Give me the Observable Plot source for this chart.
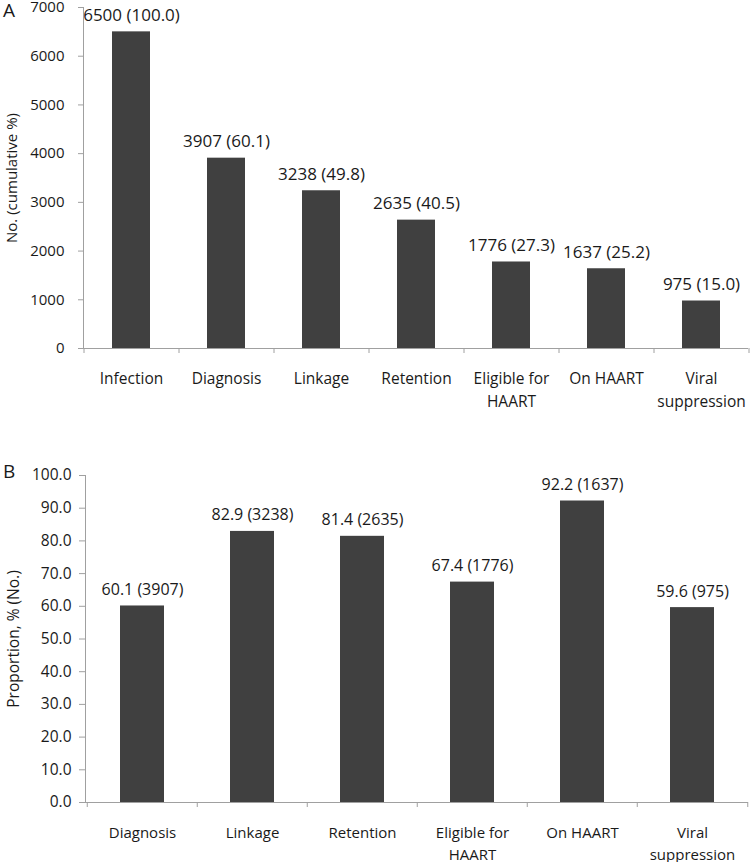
<!DOCTYPE html>
<html>
<head>
<meta charset="utf-8">
<script src="https://cdn.jsdelivr.net/npm/d3@7"></script>
<script src="https://cdn.jsdelivr.net/npm/@observablehq/plot@0.6"></script>
<style>
  html, body { margin: 0; padding: 0; background: #fff; }
  #wrap { position: relative; width: 750px; height: 862px; font-family: "Open Sans", sans-serif; color: #1a1a1a; }
  #wrap svg { display: block; }
  .panel-letter { position: absolute; left: 3px; font-size: 19px; line-height: 1; }
</style>
</head>
<body>
<div id="wrap">
  <div class="panel-letter" style="top:1px">A</div>
  <div class="panel-letter" style="top:462px">B</div>
</div>
<script>
// Panel A data
const categoriesA = ["Infection", "Diagnosis", "Linkage", "Retention", "Eligible for HAART", "On HAART", "Viral suppression"];
const countsA = [6500, 3907, 3238, 2635, 1776, 1637, 975];
const cumulativePctA = [100.0, 60.1, 49.8, 40.5, 27.3, 25.2, 15.0];
const yTicksA = [0, 1000, 2000, 3000, 4000, 5000, 6000, 7000];

// Panel B data
const categoriesB = ["Diagnosis", "Linkage", "Retention", "Eligible for HAART", "On HAART", "Viral suppression"];
const proportionsB = [60.1, 82.9, 81.4, 67.4, 92.2, 59.6];
const countsB = [3907, 3238, 2635, 1776, 1637, 975];
const yTicksB = [0, 10, 20, 30, 40, 50, 60, 70, 80, 90, 100];

// Tick labels (line breaks)
const tickLabels = {
  "Eligible for HAART": "Eligible for\nHAART",
  "Viral suppression": "Viral\nsuppression"
};

const dataA = categoriesA.map((c, i) => ({cat: c, value: countsA[i], pct: cumulativePctA[i]}));
const dataB = categoriesB.map((c, i) => ({cat: c, value: proportionsB[i], n: countsB[i]}));

const W = 750;
const axisGray = "#a0a0a0";
const barFill = "#404040";

function panel({data, cats, yDomain, yTicks, yFmt, yLabel, height, mt, mb, ml, labelText, labelSize, yTickSize, yTickPad, yFont, xFont, labelOffset}) {
  const step = (W - ml - 2) / cats.length;
  return Plot.plot({
    width: W,
    height,
    marginTop: mt,
    marginBottom: mb,
    marginLeft: ml,
    marginRight: 2,
    style: "font-family: 'Open Sans', sans-serif; font-size: 15px; color: #1a1a1a; background: white; overflow: visible;",
    x: {domain: cats, paddingInner: 0.6, paddingOuter: 0.3, axis: null},
    y: {domain: yDomain, axis: null},
    marks: [
      Plot.barY(data, {x: "cat", y: "value", fill: barFill}),
      Plot.text(data, {x: "cat", y: "value", text: labelText, dy: -11, lineAnchor: "bottom", fontSize: labelSize, fill: "#1a1a1a"}),
      Plot.axisY({ticks: yTicks, tickFormat: yFmt, tickSize: yTickSize, tickPadding: yTickPad, stroke: axisGray, fill: "#1a1a1a", fontSize: yFont,
                  label: yLabel, labelAnchor: "center", labelArrow: "none", labelOffset}),
      Plot.axisX({tickSize: 0, tickPadding: 20, tickFormat: d => tickLabels[d] ?? d, label: null, lineHeight: 1.45, fontSize: xFont, fill: "#1a1a1a"}),
      Plot.axisX({tickSize: 5, dx: -step / 2, stroke: axisGray, fill: "none", label: null}),
      Plot.axisX({ticks: [cats[cats.length - 1]], tickSize: 5, dx: step / 2, stroke: axisGray, fill: "none", label: null}),
      Plot.ruleY([0], {stroke: axisGray}),
      Plot.frame({anchor: "left", stroke: axisGray})
    ]
  });
}

const wrap = document.getElementById("wrap");

const chartA = panel({
  data: dataA, cats: categoriesA, yDomain: [0, 7000], yTicks: yTicksA, yFmt: d => String(d),
  yLabel: "No. (cumulative %)", height: 430, mt: 7, mb: 82, ml: 83,
  labelText: d => `${d.value} (${d.pct.toFixed(1)})`, labelSize: 17,
  yTickSize: 5, yTickPad: 14, yFont: 15, xFont: 15.5, labelOffset: 77
});
const chartB = panel({
  data: dataB, cats: categoriesB, yDomain: [0, 100], yTicks: yTicksB, yFmt: d => d.toFixed(1),
  yLabel: "Proportion, % (No.)", height: 432, mt: 45, mb: 60, ml: 85,
  labelText: d => `${d.value.toFixed(1)} (${d.n})`, labelSize: 16,
  yTickSize: 6, yTickPad: 8, yFont: 15.5, xFont: 15, labelOffset: 78
});
wrap.appendChild(chartA);
wrap.appendChild(chartB);
</script>
</body>
</html>
